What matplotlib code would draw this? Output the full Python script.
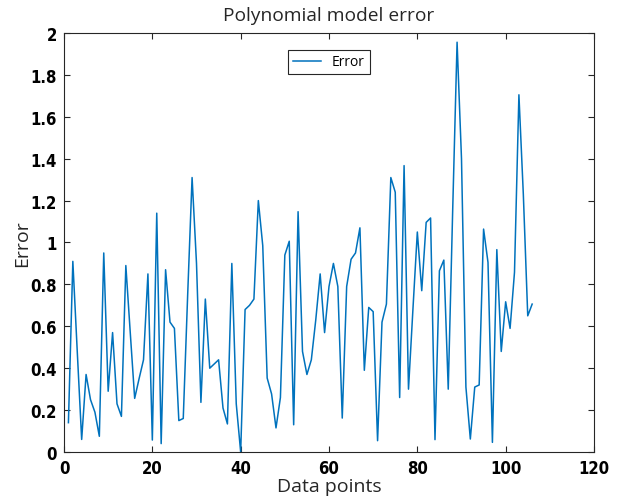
import matplotlib
matplotlib.use("Agg")
import matplotlib.pyplot as plt
import matplotlib.font_manager as fm

# Error per data point
points = list(range(1, 107))
error = [
    0.14, 0.91, 0.48, 0.06, 0.37, 0.25, 0.19, 0.075, 0.95, 0.29,
    0.57, 0.23, 0.17, 0.89, 0.57, 0.256, 0.35, 0.44, 0.85, 0.057,
    1.14, 0.04, 0.87, 0.62, 0.59, 0.15, 0.16, 0.75, 1.31, 0.90,
    0.237, 0.73, 0.40, 0.42, 0.44, 0.21, 0.134, 0.90, 0.23, 0.0,
    0.68, 0.70, 0.73, 1.20, 0.985, 0.353, 0.277, 0.115, 0.26, 0.94,
    1.006, 0.13, 1.147, 0.48, 0.37, 0.44, 0.63, 0.85, 0.57, 0.79,
    0.90, 0.79, 0.162, 0.79, 0.92, 0.95, 1.07, 0.39, 0.69, 0.67,
    0.054, 0.62, 0.706, 1.31, 1.24, 0.26, 1.367, 0.30, 0.68, 1.05,
    0.77, 1.096, 1.117, 0.059, 0.865, 0.916, 0.30, 1.15, 1.956, 1.40,
    0.31, 0.062, 0.31, 0.32, 1.064, 0.905, 0.046, 0.966, 0.48, 0.717,
    0.59, 0.858, 1.705, 1.23, 0.65, 0.706,
]
x_ticks = [0, 20, 40, 60, 80, 100, 120]
y_ticks = [0, 0.2, 0.4, 0.6, 0.8, 1.0, 1.2, 1.4, 1.6, 1.8, 2.0]
y_tick_labels = ["0", "0.2", "0.4", "0.6", "0.8", "1", "1.2", "1.4", "1.6", "1.8", "2"]

LINE_COLOR = "#0072BD"
TEXT_COLOR = "#262626"


def _narrow_bold_font():
    """Look for a condensed bold face for the tick numbers."""
    for f in fm.fontManager.ttflist:
        narrow = ("Narrow" in f.name or "Condensed" in f.name
                  or f.stretch in ("condensed", "semi-condensed", "extra-condensed"))
        w = f.weight if isinstance(f.weight, int) else 700 if "bold" in str(f.weight) else 400
        if narrow and w >= 600:
            return fm.FontProperties(fname=f.fname, size=12)
    return fm.FontProperties(family="DejaVu Sans", weight="bold", size=11)


tick_font = _narrow_bold_font()

fig = plt.figure(figsize=(6.19, 5.02), dpi=100)
ax = fig.add_axes([0.1034, 0.0976, 0.8562, 0.8347])

ax.plot(points, error, color=LINE_COLOR, linewidth=1.1, label="Error")

ax.set_xlim(0, 120)
ax.set_ylim(0, 2)
ax.set_xticks(x_ticks)
ax.set_yticks(y_ticks)
ax.set_yticklabels(y_tick_labels)

ax.tick_params(direction="in", top=True, right=True, length=4, width=0.8,
               color=TEXT_COLOR, pad=5, labelcolor="black")
for lbl in ax.get_xticklabels() + ax.get_yticklabels():
    lbl.set_fontproperties(tick_font)
for sp in ax.spines.values():
    sp.set_color(TEXT_COLOR)
    sp.set_linewidth(0.8)

ax.set_title("Polynomial model error", fontsize=13.8, color=TEXT_COLOR,
             family="Open Sans", pad=9.5)
ax.set_xlabel("Data points", fontsize=14, color=TEXT_COLOR, family="Open Sans", labelpad=0)
ax.set_ylabel("Error", fontsize=14, color=TEXT_COLOR, family="Open Sans", labelpad=-0.5)

leg = ax.legend(loc="upper center", bbox_to_anchor=(0.5, 0.977), fancybox=False,
                framealpha=1, edgecolor=TEXT_COLOR, handlelength=2.0,
                prop={"family": "Open Sans", "size": 10}, borderpad=0.35)
leg.get_frame().set_linewidth(0.8)

fig.savefig("out.png", dpi=100)
